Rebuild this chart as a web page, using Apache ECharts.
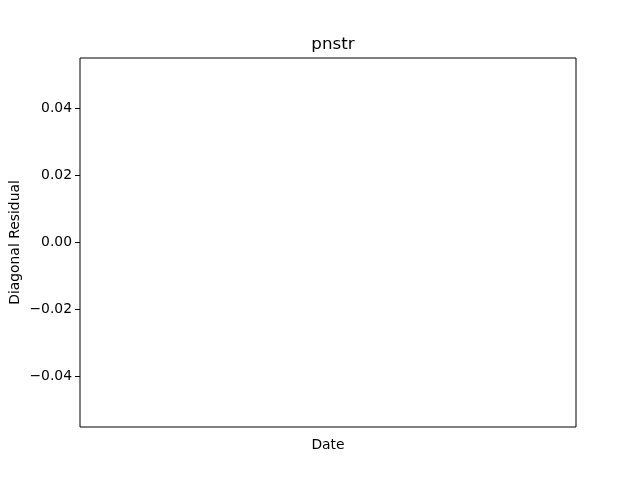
<!DOCTYPE html>
<html>
<head>
<meta charset="utf-8">
<script src="https://cdn.jsdelivr.net/npm/echarts@6/dist/echarts.min.js"></script>
<style>html,body{margin:0;padding:0;background:#fff}#c{width:640px;height:480px}</style>
</head>
<body>
<div id="c"></div>
<script>
var titleText = 'pnstr';
var xName = 'Date';
var yName = 'Diagonal Residual';
var yMin = -0.055;
var yMax = 0.055;
var yTicks = [-0.04, -0.02, 0, 0.02, 0.04];
var yTickLabels = ['\u22120.04', '\u22120.02', '0.00', '0.02', '0.04'];
var dates = [];
var residuals = [];

var font = 'DejaVu Sans';
var chart = echarts.init(document.getElementById('c'), null, {renderer: 'canvas'});
chart.setOption({
  animation: false,
  backgroundColor: '#ffffff',
  title: {
    text: titleText, left: 328, top: 31, textAlign: 'center',
    textStyle: {fontFamily: font, fontSize: 16.7, fontWeight: 'normal', color: '#000'}
  },
  grid: {left: 80, right: 64, top: 58, bottom: 53, outerBoundsMode: 'none', containLabel: false, show: true, borderColor: '#000', borderWidth: 1, backgroundColor: 'transparent'},
  xAxis: {
    type: 'value', min: 0, max: 1,
    name: xName, nameLocation: 'middle', nameGap: 11, nameMoveOverlap: false,
    nameTextStyle: {fontFamily: font, fontSize: 13.9, color: '#000'},
    axisLine: {show: false}, axisTick: {show: false}, axisLabel: {show: false}, splitLine: {show: false}
  },
  yAxis: {
    type: 'value', min: yMin, max: yMax,
    name: yName, nameLocation: 'middle', nameGap: 58, nameMoveOverlap: false,
    nameTextStyle: {fontFamily: font, fontSize: 13.9, color: '#000'},
    axisLine: {show: false},
    axisTick: {show: true, inside: false, length: 5, lineStyle: {color: '#000', width: 1}, customValues: yTicks},
    axisLabel: {
      show: true, fontFamily: font, fontSize: 13.9, color: '#000', margin: 8,
      customValues: yTicks,
      formatter: function (v) {
        for (var i = 0; i < yTicks.length; i++) if (Math.abs(yTicks[i] - v) < 1e-9) return yTickLabels[i];
        return '';
      }
    },
    splitLine: {show: false}
  },
  series: [{type: 'line', data: dates.map(function (d, i) { return [d, residuals[i]]; })}]
});
</script>
</body>
</html>
